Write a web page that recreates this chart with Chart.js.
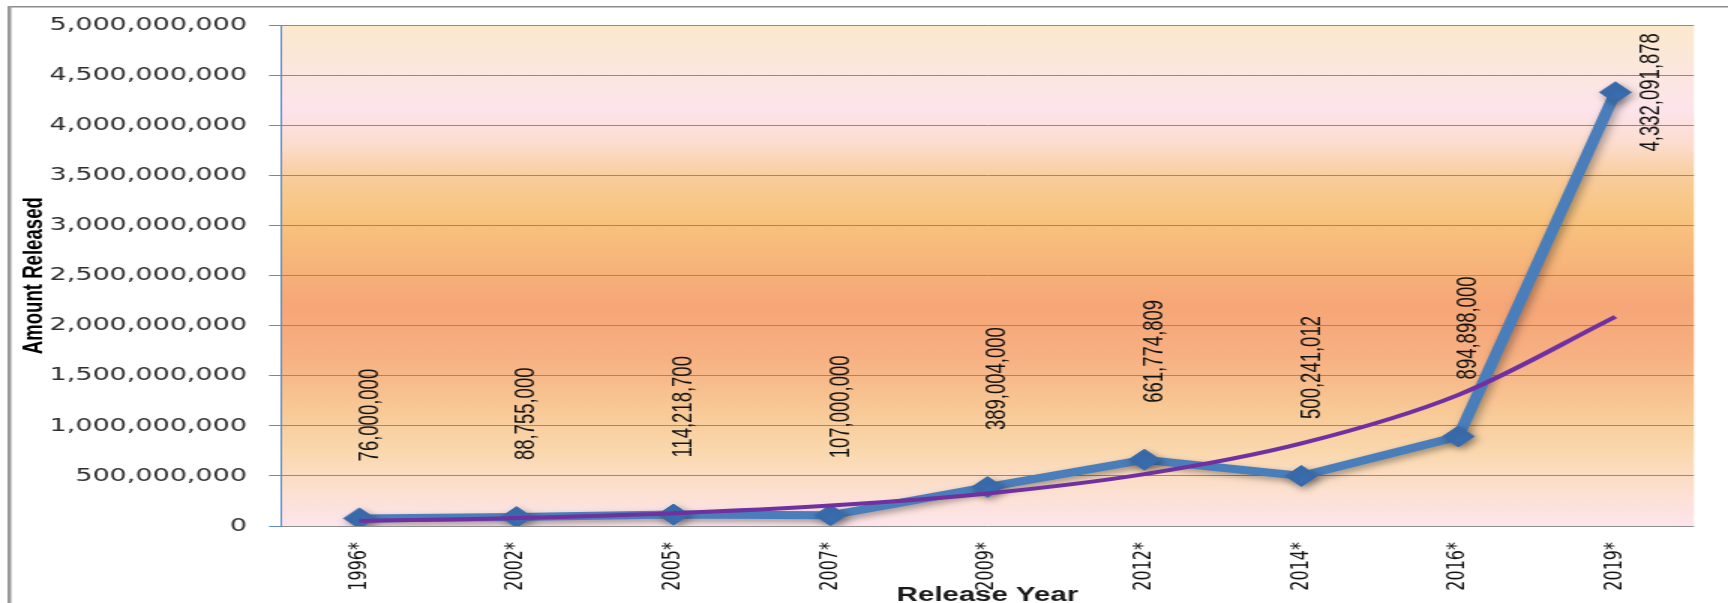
<!DOCTYPE html>
<html>
<head>
<meta charset="utf-8">
<script src="https://cdn.jsdelivr.net/npm/chart.js@4.4.1/dist/chart.umd.min.js"></script>
<style>
  html, body { margin: 0; padding: 0; background: #fff; overflow: hidden; }
  /* the original picture is stretched sideways, so draw narrow and widen it */
  #wrap { width: 1152px; height: 603px; transform: scaleX(1.5); transform-origin: 0 0; }
</style>
</head>
<body>
<div id="wrap"><canvas id="myChart" width="1152" height="603"></canvas></div>
<script>
const years = ['1996*', '2002*', '2005*', '2007*', '2009*', '2012*', '2014*', '2016*', '2019*'];
const amountReleased = [76000000, 88755000, 114218700, 107000000, 389004000, 661774809, 500241012, 894898000, 4332091878];
// exponential trendline at each year
const trendValues = [52000000, 80000000, 128000000, 205000000, 325000000, 518000000, 825000000, 1310000000, 2090000000];
const yMax = 5000000000;
const yStep = 500000000;

const bgStops = [
    [0.00, '#FBE9CC'],
    [0.11, '#FCE6E2'],
    [0.17, '#FDE4EC'],
    [0.24, '#FCDCCB'],
    [0.31, '#F9CB98'],
    [0.38, '#F8C47F'],
    [0.47, '#F7B67A'],
    [0.56, '#F6A677'],
    [0.66, '#F7B082'],
    [0.76, '#F8C794'],
    [0.85, '#FAD8AD'],
    [0.93, '#FCE0D0'],
    [1.00, '#FDE5EC']
];

const plotBackground = {
    id: 'plotBackground',
    beforeDraw(chart) {
        const {ctx, chartArea: a} = chart;
        ctx.save();
        ctx.fillStyle = '#8c8c8c';
        ctx.fillRect(5, 6, chart.width - 5, 1.5);
        ctx.fillStyle = '#999999';
        ctx.fillRect(5, 6, 2.5, chart.height - 6);
        const g = ctx.createLinearGradient(0, a.top, 0, a.bottom);
        bgStops.forEach(s => g.addColorStop(s[0], s[1]));
        ctx.fillStyle = g;
        ctx.fillRect(a.left, a.top, a.right - a.left, a.bottom - a.top);
        ctx.restore();
    }
};

const markerShadow = {
    id: 'markerShadow',
    beforeDatasetDraw(chart, args) {
        if (args.index !== 1) return;
        const ctx = chart.ctx;
        ctx.save();
        ctx.shadowColor = 'rgba(0, 0, 0, 0.35)';
        ctx.shadowBlur = 6;
        ctx.shadowOffsetX = 2;
        ctx.shadowOffsetY = 3;
    },
    afterDatasetDraw(chart, args) {
        if (args.index === 1) chart.ctx.restore();
    }
};

const valueLabels = {
    id: 'valueLabels',
    afterDatasetsDraw(chart) {
        const meta = chart.getDatasetMeta(1);
        const ctx = chart.ctx;
        ctx.save();
        ctx.font = '18.5px "Liberation Sans", Arial, sans-serif';
        ctx.fillStyle = '#111';
        ctx.textBaseline = 'middle';
        meta.data.forEach((pt, i) => {
            const text = amountReleased[i].toLocaleString('en-US');
            ctx.save();
            if (i === meta.data.length - 1) {
                ctx.translate(pt.x + 24, pt.y);
                ctx.textAlign = 'center';
            } else {
                ctx.translate(pt.x + 7, pt.y - 57);
                ctx.textAlign = 'left';
            }
            ctx.rotate(-Math.PI / 2);
            ctx.fillText(text, 0, 0);
            ctx.restore();
        });
        ctx.restore();
    }
};

const data = {
    labels: years,
    datasets: [{
        label: 'Expon. (Amount Released)',
        data: trendValues,
        borderColor: '#7030A0',
        borderWidth: 4,
        pointRadius: 0,
        cubicInterpolationMode: 'monotone',
        fill: false
    },
    {
        label: 'Amount Released',
        data: amountReleased,
        borderColor: '#4A7EBB',
        borderWidth: 8,
        pointStyle: 'rectRot',
        pointRadius: 10.5,
        pointBackgroundColor: '#3A6DB0',
        pointBorderColor: '#3A6DB0',
        pointBorderWidth: 1,
        tension: 0,
        fill: false
    }]
};

const config = {
    type: 'line',
    data: data,
    plugins: [plotBackground, markerShadow, valueLabels],
    options: {
        responsive: false,
        animation: false,
        layout: {
            padding: {top: 22, right: 22.7, bottom: 0, left: 0}
        },
        plugins: {
            legend: {display: false},
            tooltip: {enabled: false}
        },
        scales: {
            x: {
                offset: true,
                grid: {display: false, drawTicks: false},
                border: {display: false},
                ticks: {
                    autoSkip: false,
                    maxRotation: 90,
                    minRotation: 90,
                    padding: 16,
                    color: '#111',
                    font: {family: '"DejaVu Sans", sans-serif', size: 16}
                },
                title: {
                    display: true,
                    text: 'Release Year',
                    color: '#1a1a1a',
                    padding: {top: 0, bottom: -4.3},
                    font: {family: '"Liberation Sans", Arial, sans-serif', size: 19.6, weight: 'bold'}
                },
                afterFit(scale) { scale.height = 77; }
            },
            y: {
                min: 0,
                max: yMax,
                grid: {color: '#8c8c8c', tickColor: '#5B8BC9', tickLength: 8, lineWidth: 1},
                border: {color: '#5B8BC9', width: 1},
                ticks: {
                    stepSize: yStep,
                    padding: 14.6,
                    color: '#2e2e2e',
                    font: {family: '"DejaVu Sans", sans-serif', size: 18},
                    callback: v => v.toLocaleString('en-US')
                },
                title: {
                    display: true,
                    text: 'Amount Released',
                    color: '#000',
                    padding: {top: 12, bottom: 0},
                    font: {family: '"Liberation Sans", Arial, sans-serif', size: 18.6, weight: 'bold'}
                },
                afterFit(scale) { scale.width = 187.3; }
            }
        }
    }
};

const myChart = new Chart(
    document.getElementById('myChart'),
    config
);
</script>
</body>
</html>
